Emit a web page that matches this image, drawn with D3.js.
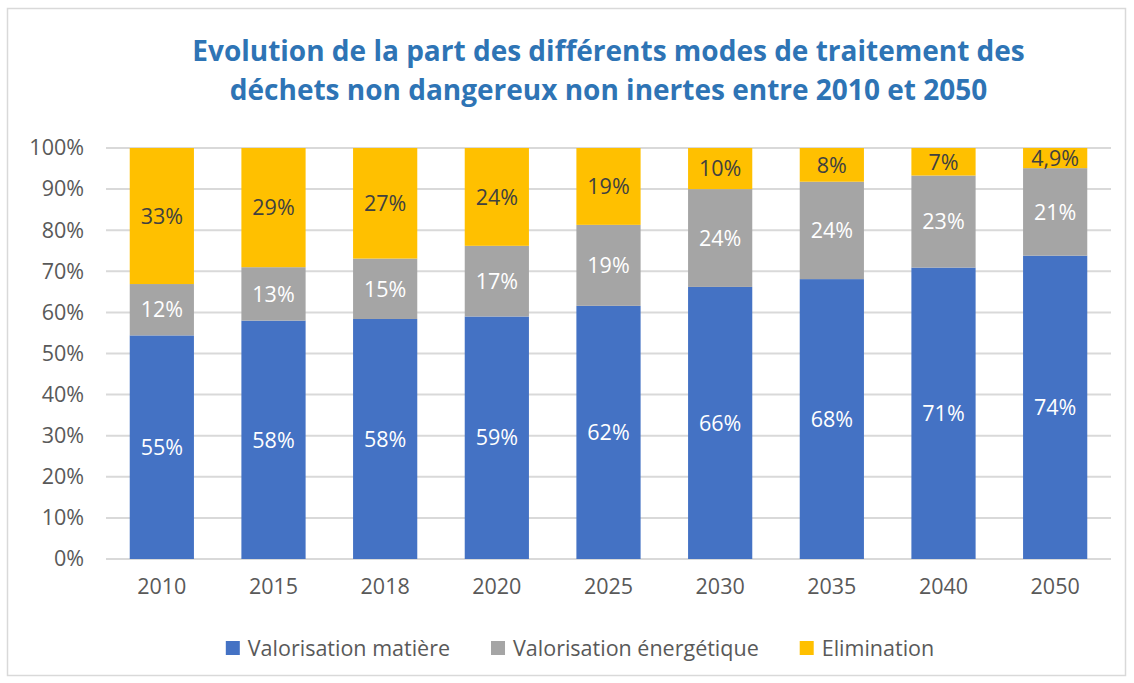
<!DOCTYPE html>
<html><head><meta charset="utf-8">
<script src="https://cdn.jsdelivr.net/npm/d3@7"></script>
<style>body{margin:0;background:#fff}</style></head>
<body><svg id="c" width="1134" height="683"></svg>
<script>
const years = ["2010","2015","2018","2020","2025","2030","2035","2040","2050"];
const matiere     = [54.4, 58.0, 58.4, 59.0, 61.6, 66.2, 68.1, 70.9, 73.8];
const energetique = [12.5, 13.0, 14.7, 17.2, 19.7, 23.8, 23.7, 22.4, 21.3];
const elimination = [33.1, 29.0, 26.9, 23.8, 18.7, 10.0,  8.2,  6.7,  4.9];
const labelsMatiere     = ["55%","58%","58%","59%","62%","66%","68%","71%","74%"];
const labelsEnergetique = ["12%","13%","15%","17%","19%","24%","24%","23%","21%"];
const labelsElimination = ["33%","29%","27%","24%","19%","10%","8%","7%","4,9%"];
const seriesNames = ["Valorisation matière","Valorisation énergétique","Elimination"];
const yTicks = [0,10,20,30,40,50,60,70,80,90,100];
const titleLines = ["Evolution de la part des différents modes de traitement des",
                    "déchets non dangereux non inertes entre 2010 et 2050"];

const colors = ["#4472C4","#A5A5A5","#FFC000"];
const labelColors = ["#FFFFFF","#FFFFFF","#404040"];
const FONT = "'Open Sans', sans-serif";

const svg = d3.select("#c");
svg.append("rect").attr("x",7.5).attr("y",8.5).attr("width",1118).attr("height",667)
  .attr("fill","#fff").attr("stroke","#D9D9D9").attr("stroke-width",1.5);

const m = {left:106, right:1111, top:148, bottom:559};
const x = d3.scaleBand().domain(years).range([m.left, m.right]).paddingInner(0.425).paddingOuter(0.2125);
const y = d3.scaleLinear().domain([0,100]).range([m.bottom, m.top]);

// title
svg.append("g").selectAll("text").data(titleLines).join("text")
  .attr("x", (m.left+m.right)/2).attr("y",(d,i)=>61+i*39)
  .attr("text-anchor","middle").attr("font-family",FONT).attr("font-weight","bold")
  .attr("font-size",28).attr("fill","#2E74B5").text(d=>d);

// grid
svg.append("g").selectAll("line").data(yTicks).join("line")
  .attr("x1",m.left).attr("x2",m.right).attr("y1",d=>y(d)).attr("y2",d=>y(d))
  .attr("stroke","#D9D9D9").attr("stroke-width",2);

// y axis labels
const yAxis = d3.axisLeft(y).tickValues(yTicks).tickFormat(d=>d+"%").tickSize(0).tickPadding(0);
const gy = svg.append("g").attr("transform",`translate(${m.left-22},0)`).call(yAxis);
gy.select(".domain").remove();
gy.selectAll("text").attr("font-family",FONT).attr("font-size",21.5).attr("fill","#595959");

// x axis labels
const xAxis = d3.axisBottom(x).tickSize(0).tickPadding(0);
const gx = svg.append("g").attr("transform",`translate(0,${m.bottom+20})`).call(xAxis);
gx.select(".domain").remove();
gx.selectAll("text").attr("font-family",FONT).attr("font-size",21.5).attr("fill","#595959");

// stacked bars
const rows = years.map((yr,i)=>({year:yr, a:matiere[i], b:energetique[i], c:elimination[i]}));
const stack = d3.stack().keys(["a","b","c"])(rows);
const labels = [labelsMatiere, labelsEnergetique, labelsElimination];

const gs = svg.append("g").selectAll("g").data(stack).join("g").attr("fill",(d,i)=>colors[i]);
gs.selectAll("rect").data(d=>d).join("rect")
  .attr("x",d=>x(d.data.year)).attr("width",x.bandwidth())
  .attr("y",d=>y(d[1])).attr("height",d=>y(d[0])-y(d[1]));

stack.forEach((s,si)=>{
  svg.append("g").selectAll("text").data(s).join("text")
    .attr("x",d=>x(d.data.year)+x.bandwidth()/2)
    .attr("y",d=>(y(d[0])+y(d[1]))/2)
    .attr("dy","0.36em").attr("text-anchor","middle")
    .attr("font-family",FONT).attr("font-size",21.5).attr("fill",labelColors[si])
    .text((d,i)=>labels[si][i]);
});

// legend
const lg = svg.append("g");
const items = lg.selectAll("g").data(seriesNames).join("g");
items.append("rect").attr("width",14).attr("height",14).attr("y",-15).attr("fill",(d,i)=>colors[i]);
items.append("text").attr("x",22).attr("font-family",FONT).attr("font-size",21.5).attr("fill","#595959").text(d=>d);
let off = 0;
items.each(function(){
  d3.select(this).attr("transform",`translate(${off},0)`);
  off += 22 + d3.select(this).select("text").node().getComputedTextLength() + 41;
});
const total = off - 41;
lg.attr("transform",`translate(${580-total/2},656)`);
</script></body></html>
